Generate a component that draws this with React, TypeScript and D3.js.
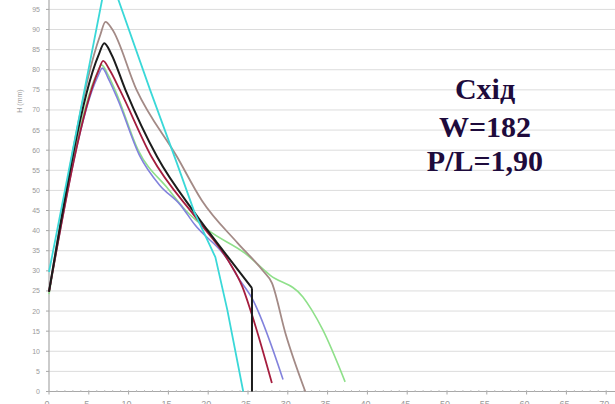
import React from "react";
import * as d3 from "d3";

const yTicks = d3.range(0, 100, 5);
const xTicks = d3.range(0, 75, 5);
const xTickLabels = xTicks.map((v) => String(v));

type Pt = [number, number];

const cyan: Pt[] = [
  [0, 29.7], [7.4, 104.8], [12.7, 75.0], [16.1, 56.6], [18.3, 44.4],
  [20.9, 33.4], [22.4, 20.3], [24.4, 0],
];
const brown: Pt[] = [
  [0, 24.8], [6.4, 88.4], [7.1, 91.9], [7.9, 90.2], [11.0, 75.0],
  [16.1, 58.3], [19.2, 47.5], [23.7, 36.9], [26.8, 30.2], [28.0, 27.0],
  [29.7, 14.5], [32.2, 0],
];
const black: Pt[] = [
  [0, 24.8], [6.2, 83.5], [6.95, 86.6], [7.8, 84.0], [9.6, 75.0],
  [13.6, 58.3], [18.3, 44.4], [22.5, 33.4], [25.5, 25.7], [25.5, 0],
];
const red: Pt[] = [
  [0, 24.8], [6.2, 79.7], [6.8, 82.2], [7.6, 80.0], [8.9, 75.0],
  [12.9, 58.3], [18.7, 42.6], [22.5, 32.6], [24.3, 26.0], [25.3, 20.3],
  [28.0, 2.1],
];
const purple: Pt[] = [
  [0, 24.8], [6.1, 78.2], [6.7, 80.4], [7.5, 77.6], [8.6, 72.8],
  [11.4, 58.6], [13.9, 51.3], [16.5, 46.4], [18.3, 41.5], [22.5, 32.6],
  [23.7, 28.5], [25.5, 23.2], [29.4, 3.0],
];
const green: Pt[] = [
  [0, 24.2], [6.0, 79.0], [6.6, 81.2], [7.4, 78.8], [8.4, 74.5],
  [11.2, 60.0], [15.0, 50.3], [17.1, 45.2], [20.0, 40.1], [24.6, 34.4],
  [27.8, 28.9], [31.9, 23.5], [33.0, 20.3], [34.4, 15.3], [37.2, 2.4],
];

const series = [
  { name: "green", data: green, color: "#8fe08a", width: 1.6, smooth: true },
  { name: "purple", data: purple, color: "#8282dc", width: 1.6, smooth: true },
  { name: "brown", data: brown, color: "#a38a86", width: 1.8, smooth: true },
  { name: "red", data: red, color: "#a51d3e", width: 1.8, smooth: true },
  { name: "black", data: black, color: "#1c1c1c", width: 2, smooth: true },
  { name: "cyan", data: cyan, color: "#3ad8d8", width: 1.8, smooth: false },
];

const titleLines = ["Схід", "W=182", "P/L=1,90"];

const W = 615;
const H = 404;
const x0 = 49;
const yBase = 391.5;

export default function App() {
  const x = d3.scaleLinear().domain([0, 70]).range([x0, x0 + 7.96 * 70]);
  const y = d3.scaleLinear().domain([0, 100]).range([yBase, yBase - 402.2]);
  const smoothLine = d3
    .line<Pt>()
    .x((d) => x(d[0]))
    .y((d) => y(d[1]))
    .curve(d3.curveMonotoneX);
  const straightLine = d3
    .line<Pt>()
    .x((d) => x(d[0]))
    .y((d) => y(d[1]))
    .curve(d3.curveLinear);

  const pathFor = (data: Pt[], smooth: boolean) => {
    if (!smooth) return straightLine(data) || "";
    // split off vertical drops (repeated x), drawn straight
    const n = data.length;
    if (n > 1 && data[n - 1][0] === data[n - 2][0]) {
      return (smoothLine(data.slice(0, n - 1)) || "") + " " + (straightLine(data.slice(n - 2)) || "");
    }
    return smoothLine(data) || "";
  };

  const minorTicks = d3.range(0, 71, 1);

  return (
    <div style={{ position: "fixed", left: 0, top: 0, width: W, height: H, background: "#fff" }}>
      <svg width={W} height={H} style={{ display: "block" }}>
        <rect x={0} y={0} width={W} height={H} fill="#ffffff" />
        {yTicks.slice(1).map((t) => (
          <line key={"g" + t} x1={x0} x2={W} y1={y(t)} y2={y(t)} stroke="#dcdcdc" strokeWidth={1} />
        ))}
        <line x1={x0} x2={x0} y1={0} y2={yBase} stroke="#a8a8a8" strokeWidth={1.2} />
        {yTicks.map((t) => (
          <g key={"yt" + t}>
            <line x1={x0 - 3} x2={x0} y1={y(t)} y2={y(t)} stroke="#a8a8a8" />
            <text
              x={40}
              y={y(t)}
              dy="0.35em"
              textAnchor="end"
              fontSize={7}
              fontFamily="Liberation Sans, Arial, sans-serif"
              fill="#9a9a9a"
            >
              {t}
            </text>
          </g>
        ))}
        <text
          transform={`translate(22,101) rotate(-90)`}
          textAnchor="middle"
          fontSize={7}
          fontFamily="Liberation Sans, Arial, sans-serif"
          fill="#9a9a9a"
        >
          H (mm)
        </text>
        <line x1={x0} x2={W} y1={yBase} y2={yBase} stroke="#a8a8a8" strokeWidth={1.2} />
        {minorTicks.map((t) => (
          <line key={"mx" + t} x1={x(t)} x2={x(t)} y1={yBase - 1.5} y2={yBase} stroke="#c4c4c4" />
        ))}
        {xTicks.map((t, i) => (
          <g key={"xt" + t}>
            <line x1={x(t)} x2={x(t)} y1={yBase} y2={yBase + 3} stroke="#a8a8a8" />
            <text
              x={x(t) - 2}
              y={407}
              textAnchor="middle"
              fontSize={9}
              fontFamily="Liberation Sans, Arial, sans-serif"
              fill="#9a9a9a"
            >
              {xTickLabels[i]}
            </text>
          </g>
        ))}
        {series.map((s) => (
          <path
            key={s.name}
            d={pathFor(s.data, s.smooth)}
            fill="none"
            stroke={s.color}
            strokeWidth={s.width}
            strokeLinejoin="round"
          />
        ))}
        {titleLines.map((t, i) => (
          <text
            key={t}
            x={485}
            y={[99, 137, 171][i]}
            textAnchor="middle"
            fontSize={30}
            fontWeight="bold"
            fontFamily="Liberation Serif, Times New Roman, serif"
            fill="#1e0b3c"
          >
            {t}
          </text>
        ))}
      </svg>
    </div>
  );
}
